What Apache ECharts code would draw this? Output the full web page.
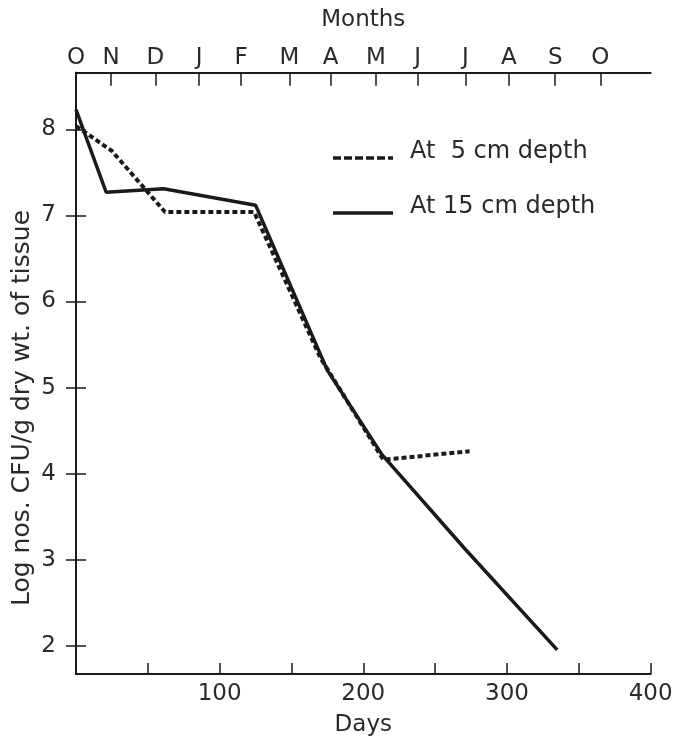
<!DOCTYPE html>
<html>
<head>
<meta charset="utf-8">
<script src="https://cdn.jsdelivr.net/npm/echarts@6/dist/echarts.min.js"></script>
<style>html,body{margin:0;padding:0;background:#fff}#c{width:680px;height:738px}</style>
</head>
<body>
<div id="c"></div>
<script>
// Data (days since start, log CFU/g)
const depth5Days   = [0, 25, 62, 124, 170, 214, 274];
const depth5Values = [8.04, 7.75, 7.04, 7.04, 5.35, 4.16, 4.26];
const depth15Days   = [0, 21, 61, 125, 175, 213, 271, 335];
const depth15Values = [8.23, 7.27, 7.31, 7.12, 5.2, 4.22, 3.12, 1.95];
const yTicks = [2, 3, 4, 5, 6, 7, 8];
const dayLabels = [100, 200, 300, 400];
const monthDays = [0, 24.5, 55.2, 85.7, 115, 148.6, 177.3, 208.7, 237.9, 271, 301.3, 333.6, 365];
const monthLabels = ['O','N','D','J','F','M','A','M','J','J','A','S','O'];
const seriesNames = ['At  5 cm depth', 'At 15 cm depth'];
const yTitle = 'Log nos. CFU/g dry wt. of tissue';

const FONT = 'DejaVu Sans';
const INK = '#1a1a1a';
const txt = {fontFamily: FONT, fontSize: 23, color: '#2a2a2a'};

const chart = echarts.init(document.getElementById('c'), null, {renderer: 'canvas'});
const L = 76, R = 650.6, T = 72.7, B = 674;
chart.setOption({
  animation: false,
  backgroundColor: '#fff',
  grid: {left: L, right: 680 - R, top: T, bottom: 738 - B, containLabel: false, outerBoundsMode: 'none'},
  xAxis: [{
    type: 'value', position: 'bottom', min: 0, max: 400, interval: 50,
    name: 'Days', nameLocation: 'middle', nameGap: 40, nameTextStyle: txt,
    axisLine: {show: true, lineStyle: {color: INK, width: 2}},
    axisTick: {show: true, inside: true, length: 11, lineStyle: {color: INK, width: 1.5}},
    axisLabel: {customValues: dayLabels, margin: 9, ...txt},
    splitLine: {show: false}
  }, {
    type: 'value', position: 'top', min: 0, max: 400,
    name: 'Months', nameLocation: 'middle', nameGap: 41, nameTextStyle: txt,
    axisLine: {show: true, lineStyle: {color: INK, width: 2}},
    axisTick: {show: true, inside: true, length: 13, customValues: monthDays.slice(1), lineStyle: {color: INK, width: 1.5}},
    axisLabel: {customValues: monthDays, margin: 3, ...txt,
      formatter: v => { const i = monthDays.indexOf(v); return i >= 0 ? monthLabels[i] : ''; }},
    splitLine: {show: false}
  }],
  yAxis: [{
    type: 'value', position: 'left', min: 1.67, max: 8.66,
    axisLine: {show: true, lineStyle: {color: INK, width: 2}},
    axisTick: {show: true, inside: true, length: 10, customValues: yTicks, lineStyle: {color: INK, width: 1.5}},
    axisLabel: {customValues: yTicks, margin: 20, ...txt},
    splitLine: {show: false}
  }, {
    type: 'value', position: 'right', min: 1.67, max: 8.66,
    axisLine: {show: true, lineStyle: {color: INK, width: 2}},
    axisTick: {show: true, inside: true, length: 10, customValues: yTicks, lineStyle: {color: INK, width: 1.5}},
    axisLabel: {show: false},
    splitLine: {show: false}
  }],
  series: [{
    name: seriesNames[0], type: 'line', showSymbol: false, symbol: 'none',
    data: depth5Days.map((d, i) => [d, depth5Values[i]]),
    lineStyle: {color: INK, width: 4, type: [5, 3]}
  }, {
    name: seriesNames[1], type: 'line', showSymbol: false, symbol: 'none',
    data: depth15Days.map((d, i) => [d, depth15Values[i]]),
    lineStyle: {color: INK, width: 3.5, type: 'solid'}
  }],
  graphic: [
    {type: 'text', x: 22, y: 408, rotation: Math.PI / 2,
     style: {text: yTitle, font: '25px "DejaVu Sans"', fill: '#2a2a2a', align: 'center', verticalAlign: 'middle'}},
    {type: 'line', shape: {x1: 333, y1: 158, x2: 393, y2: 158}, style: {stroke: INK, lineWidth: 3.5, lineDash: [8, 3]}},
    {type: 'text', x: 410, y: 152, style: {text: seriesNames[0], font: '24px "DejaVu Sans"', fill: '#2a2a2a', verticalAlign: 'middle'}},
    {type: 'line', shape: {x1: 333, y1: 213, x2: 393, y2: 213}, style: {stroke: INK, lineWidth: 3.5}},
    {type: 'text', x: 410, y: 207, style: {text: seriesNames[1], font: '24px "DejaVu Sans"', fill: '#2a2a2a', verticalAlign: 'middle'}}
  ]
});
</script>
</body>
</html>
